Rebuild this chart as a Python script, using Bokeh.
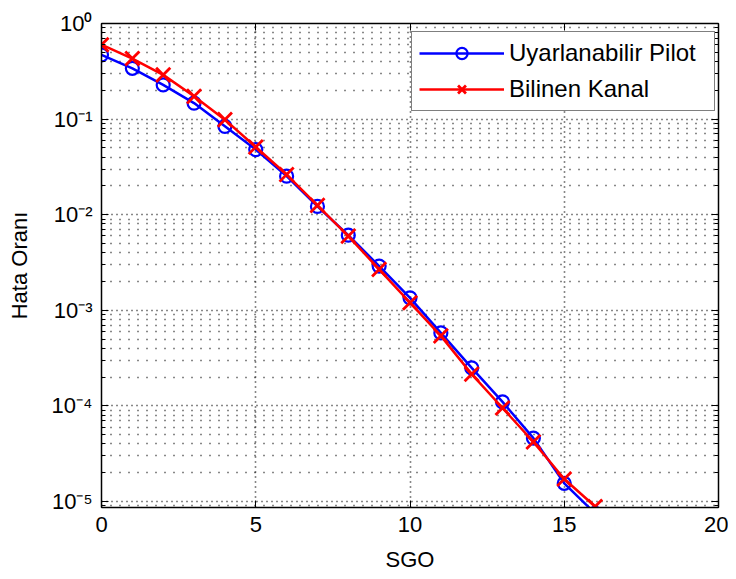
from bokeh.plotting import figure
from bokeh.models import (FixedTicker, LogAxis, LinearAxis, CustomJSTickFormatter,
                          Legend, LegendItem, ColumnDataSource)
from bokeh.embed import file_html
from bokeh.resources import INLINE

# ---- data ----
sgo = list(range(17))
pilot = [0.47, 0.34, 0.228, 0.147, 0.084, 0.048, 0.0253, 0.0122, 0.0061, 0.0029,
         0.00135, 0.00058, 0.00025, 0.00011, 4.6e-5, 1.55e-5, 7.5e-6]
known = [0.60, 0.43, 0.29, 0.173, 0.0986, 0.051, 0.0263, 0.0125, 0.00597, 0.00268,
         0.0012, 0.00054, 0.000215, 9.5e-5, 4.2e-5, 1.72e-5, 8.85e-6]
x_ticks = [0, 5, 10, 15, 20]
y_ticks = [1e-5, 1e-4, 1e-3, 1e-2, 1e-1, 1.0]
y_minor = [m * d for d in [1e-6, 1e-5, 1e-4, 1e-3, 1e-2, 1e-1] for m in range(2, 10)]
labels = ["Uyarlanabilir Pilot", "Bilinen Kanal"]
x_label = "SGO"
y_label = "Hata Oranı"

FONT = "Liberation Sans"

p = figure(frame_width=617, frame_height=484,
           min_border_left=101, min_border_right=10, min_border_top=23, min_border_bottom=64,
           y_axis_type="log", x_range=(0, 20), y_range=(8.65e-6, 1.0),
           output_backend="svg", toolbar_location=None,
           background_fill_color="white", border_fill_color="white")
p.outline_line_color = "black"
p.outline_line_width = 1

xt = FixedTicker(ticks=x_ticks)
yt = FixedTicker(ticks=y_ticks, minor_ticks=y_minor)

sup_fmt = CustomJSTickFormatter(code="""
const sup = {'0':'\u2070','1':'\u00b9','2':'\u00b2','3':'\u00b3','4':'\u2074','5':'\u2075',
             '6':'\u2076','7':'\u2077','8':'\u2078','9':'\u2079','-':'\u207b'};
const e = Math.round(Math.log10(tick));
return '10' + String(e).split('').map(c => sup[c]).join('');
""")

def style_axis(ax, show_labels=True, minor=False):
    ax.axis_line_color = "black"
    ax.axis_line_width = 1.5
    ax.major_tick_in = 7
    ax.major_tick_out = 0
    ax.major_tick_line_color = "black"
    ax.major_tick_line_width = 1
    if minor:
        ax.minor_tick_in = 4
        ax.minor_tick_out = 0
        ax.minor_tick_line_color = "black"
    else:
        ax.minor_tick_line_color = None
    ax.major_label_text_font = FONT
    ax.major_label_text_font_size = "22px"
    ax.major_label_text_color = "black"
    ax.major_label_standoff = 9
    ax.axis_label_text_font = FONT
    ax.axis_label_text_font_size = "22px"
    ax.axis_label_text_font_style = "normal"
    ax.axis_label_text_color = "black"
    if not show_labels:
        ax.major_label_text_font_size = "0px"
        ax.major_label_text_color = None

# bottom / left axes
p.xaxis.ticker = xt
p.yaxis.ticker = yt
p.yaxis.formatter = sup_fmt
style_axis(p.xaxis[0])
style_axis(p.yaxis[0], minor=True)
p.xaxis.axis_label = x_label
p.yaxis.axis_label = y_label
p.xaxis.axis_label_standoff = 12
p.yaxis.axis_label_standoff = 17

# top / right axes (box)
top = LinearAxis(ticker=xt)
style_axis(top, show_labels=False)
p.add_layout(top, "above")
right = LogAxis(ticker=yt)
style_axis(right, show_labels=False, minor=True)
p.add_layout(right, "right")

# grid (dotted)
for g in (p.xgrid, p.ygrid):
    g.grid_line_color = "#111111"
    g.grid_line_dash = "1 4"
    g.grid_line_width = 1.6
p.ygrid.minor_grid_line_color = "#111111"
p.ygrid.minor_grid_line_dash = "1 8"
p.ygrid.minor_grid_line_width = 1.6

src = ColumnDataSource(dict(x=sgo, pilot=pilot, known=known))

l1 = p.line("x", "pilot", source=src, line_color="blue", line_width=2.5)
s1 = p.scatter("x", "pilot", source=src, marker="circle", size=13, fill_color=None,
               line_color="blue", line_width=2.2)
l2 = p.line("x", "known", source=src, line_color="red", line_width=2.5)
s2 = p.scatter("x", "known", source=src, marker="x", size=20, line_color="red", line_width=2.8)

legend = Legend(items=[LegendItem(label=labels[0], renderers=[l1, s1]),
                       LegendItem(label=labels[1], renderers=[l2, s2])],
                location=(310, 396), margin=0, padding=7, spacing=8,
                label_text_font=FONT, label_text_font_size="24px", label_text_color="black",
                label_height=28, glyph_height=28, glyph_width=85, label_standoff=5,
                label_width=198,
                border_line_color="black", border_line_width=1,
                background_fill_color="white", background_fill_alpha=1.0)
p.add_layout(legend)

open("out.html", "w").write(file_html(p, INLINE))
